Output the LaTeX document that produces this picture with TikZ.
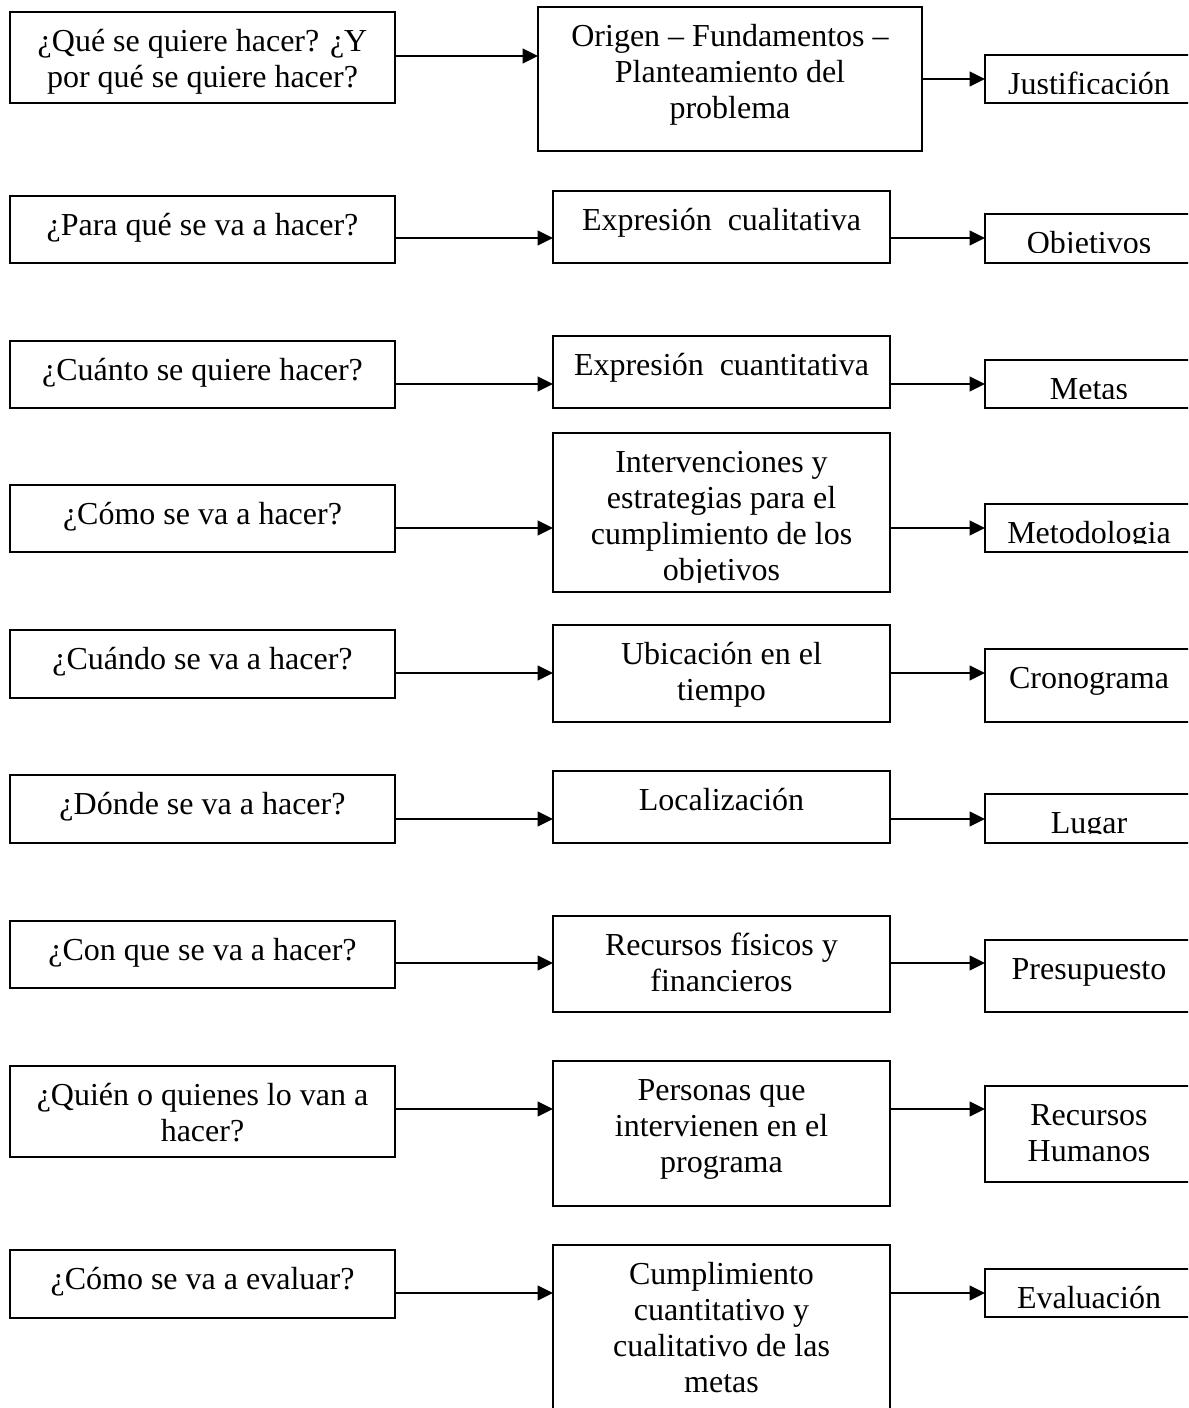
\documentclass[tikz,border=0pt]{standalone}
\usepackage{fontspec}
\setmainfont{Liberation Serif}
\usetikzlibrary{arrows.meta}
\tikzset{
  boxs/.style={draw, line width=1.3pt, inner sep=0pt, outer sep=0pt, anchor=north west},
  txt/.style={anchor=base, inner sep=0pt, font=\fontsize{24}{27}\selectfont},
  arr/.style={line width=1.3pt, -{Triangle[length=11.5pt,width=11pt]}}
}
% name, x1, y1, x2, y2, text, clip-y
\newcommand{\mybox}[7]{%
  \node[boxs, minimum width={(#4-#2)*0.75pt}, minimum height={(#5-#3)*0.75pt}] (#1) at (#2,#3) {};
  \begin{scope}
    \clip (#2,#3) rectangle (#4,#7);
    \node[txt] (#1t) at ({(#2+#4)/2},{#3+39.5}) {\begin{tabular}[t]{@{}c@{}}#6\end{tabular}};
  \end{scope}
}
\begin{document}
\begin{tikzpicture}[x=0.75pt,y=-0.75pt]
\useasboundingbox (0,0) rectangle (1188,1408);
\clip (0,0) rectangle (1188,1408);
% Row 1
\mybox{l1}{10}{12}{395}{103}{¿Qué se quiere hacer? ¿Y\\por qué se quiere hacer?}{120}
\mybox{m1}{538}{7}{922}{151}{Origen – Fundamentos –\\Planteamiento del\\problema}{160}
\mybox{r1}{985}{55}{1193}{103}{Justificación}{94}
% Row 2
\mybox{l2}{10}{196}{395}{263}{¿Para qué se va a hacer?}{280}
\mybox{m2}{553}{191}{890}{263}{Expresión\ \ cualitativa}{280}
\mybox{r2}{985}{214}{1193}{263}{Objetivos}{253}
% Row 3
\mybox{l3}{10}{341}{395}{408}{¿Cuánto se quiere hacer?}{420}
\mybox{m3}{553}{336}{890}{408}{Expresión\ \ cuantitativa}{420}
\mybox{r3}{985}{360}{1193}{408}{Metas}{398}
% Row 4
\mybox{l4}{10}{485}{395}{552}{¿Cómo se va a hacer?}{570}
\mybox{m4}{553}{433}{890}{592}{Intervenciones y\\estrategias para el\\cumplimiento de los\\objetivos}{582}
\mybox{r4}{985}{504}{1193}{552}{Metodologia}{543}
% Row 5
\mybox{l5}{10}{630}{395}{698}{¿Cuándo se va a hacer?}{710}
\mybox{m5}{553}{625}{890}{722}{Ubicación en el\\tiempo}{740}
\mybox{r5}{985}{649}{1193}{722}{Cronograma}{740}
% Row 6
\mybox{l6}{10}{775}{395}{843}{¿Dónde se va a hacer?}{860}
\mybox{m6}{553}{771}{890}{843}{Localización}{860}
\mybox{r6}{985}{794}{1193}{843}{Lugar}{833}
% Row 7
\mybox{l7}{10}{921}{395}{988}{¿Con que se va a hacer?}{1000}
\mybox{m7}{553}{916}{890}{1012}{Recursos físicos y\\financieros}{1030}
\mybox{r7}{985}{940}{1193}{1012}{Presupuesto}{1030}
% Row 8
\mybox{l8}{10}{1066}{395}{1157}{¿Quién o quienes lo van a\\hacer?}{1170}
\mybox{m8}{553}{1061}{890}{1206}{Personas que\\intervienen en el\\programa}{1220}
\mybox{r8}{985}{1086}{1193}{1182}{Recursos\\Humanos}{1200}
% Row 9
\mybox{l9}{10}{1250}{395}{1318}{¿Cómo se va a evaluar?}{1330}
\mybox{m9}{553}{1245}{890}{1430}{Cumplimiento\\cuantitativo y\\cualitativo de las\\metas}{1430}
\mybox{r9}{985}{1269}{1193}{1317}{Evaluación}{1309}
% Connectors
\draw[arr] (l1.east |- 0,56) -- (m1.west |- 0,56);
\draw[arr] (m1.east |- 0,79) -- (r1.west |- 0,79);
\draw[arr] (l2.east |- 0,238) -- (m2.west |- 0,238);
\draw[arr] (m2.east |- 0,238) -- (r2.west |- 0,238);
\draw[arr] (l3.east |- 0,384) -- (m3.west |- 0,384);
\draw[arr] (m3.east |- 0,384) -- (r3.west |- 0,384);
\draw[arr] (l4.east |- 0,528) -- (m4.west |- 0,528);
\draw[arr] (m4.east |- 0,528) -- (r4.west |- 0,528);
\draw[arr] (l5.east |- 0,673) -- (m5.west |- 0,673);
\draw[arr] (m5.east |- 0,673) -- (r5.west |- 0,673);
\draw[arr] (l6.east |- 0,819) -- (m6.west |- 0,819);
\draw[arr] (m6.east |- 0,819) -- (r6.west |- 0,819);
\draw[arr] (l7.east |- 0,963) -- (m7.west |- 0,963);
\draw[arr] (m7.east |- 0,963) -- (r7.west |- 0,963);
\draw[arr] (l8.east |- 0,1109) -- (m8.west |- 0,1109);
\draw[arr] (m8.east |- 0,1109) -- (r8.west |- 0,1109);
\draw[arr] (l9.east |- 0,1293) -- (m9.west |- 0,1293);
\draw[arr] (m9.east |- 0,1293) -- (r9.west |- 0,1293);
\end{tikzpicture}
\end{document}
